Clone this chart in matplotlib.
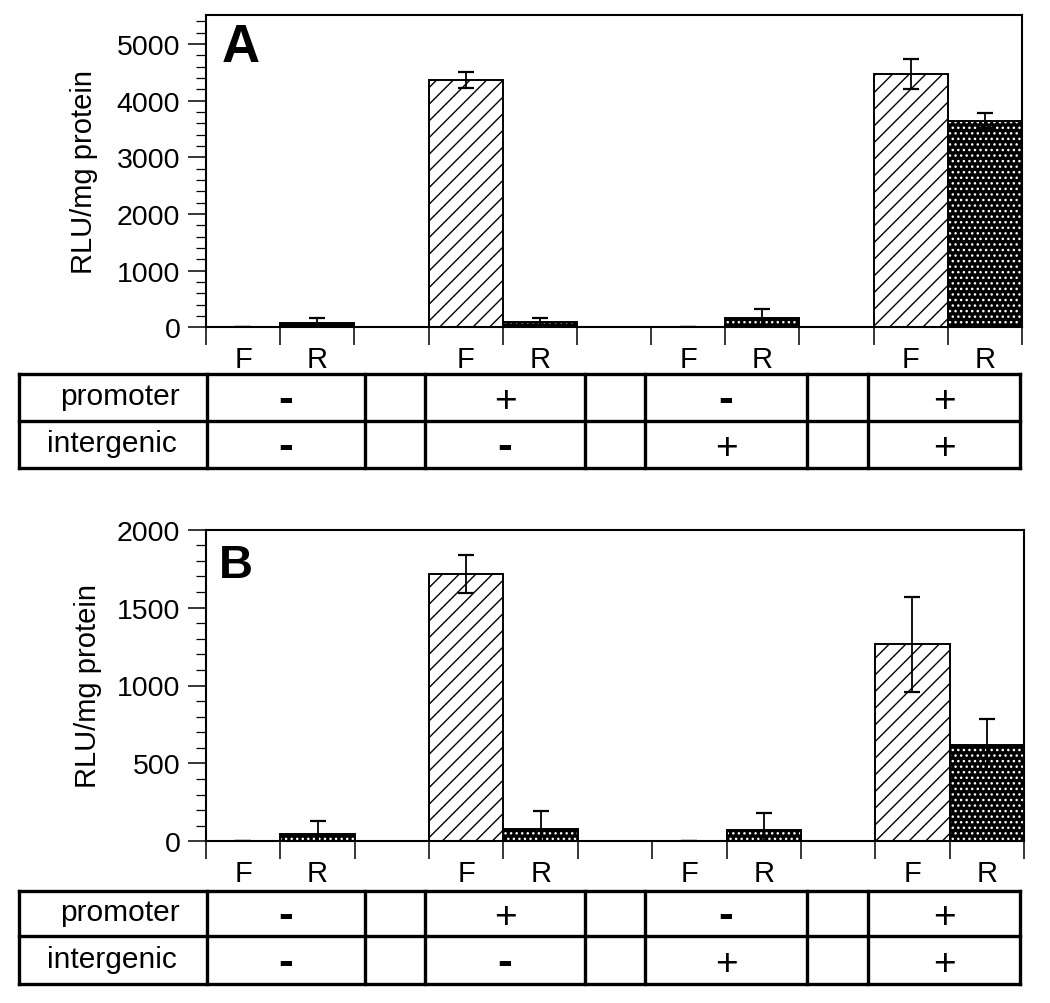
import matplotlib
matplotlib.use('Agg')
import matplotlib.pyplot as plt
import numpy as np
from matplotlib import font_manager
from matplotlib.ticker import MultipleLocator
from matplotlib.lines import Line2D


def has_font(name):
    try:
        font_manager.findfont(font_manager.FontProperties(family=name),
                              fallback_to_default=False)
        return True
    except Exception:
        return False


REG = 'Liberation Sans' if has_font('Liberation Sans') else 'DejaVu Sans'

# ---------------- data ----------------
strands = ['F', 'R']
n_groups = 4
a_forward = [2, 4360, 2, 4465]
a_forward_err = [3, 140, 3, 260]
a_reverse = [70, 85, 160, 3645]
a_reverse_err = [95, 75, 165, 130]

b_forward = [2, 1715, 2, 1264]
b_forward_err = [3, 120, 3, 307]
b_reverse = [50, 80, 75, 620]
b_reverse_err = [80, 115, 105, 165]

promoter = ['-', '+', '-', '+']
intergenic = ['-', '-', '+', '+']
row_names = ['promoter', 'intergenic']
y_label = 'RLU/mg protein'

# ---------------- figure ----------------
W, H = 1050, 1004
fig = plt.figure(figsize=(W / 100, H / 100), dpi=100)
plt.rcParams['hatch.linewidth'] = 1.0


def px_axes(l, t, r, b):
    return fig.add_axes([l / W, 1 - b / H, (r - l) / W, (b - t) / H])


def ftext(x, y, s, **kw):
    return fig.text(x / W, 1 - y / H, s, **kw)


slot_labels = []
for g in range(n_groups):
    slot_labels += strands
    if g < n_groups - 1:
        slot_labels.append('')


def draw_panel(ax, fwd, fwd_err, rev, rev_err, ymax, major, minor):
    fx = np.arange(n_groups) * 3 + 0.5
    rx = fx + 1
    ax.bar(fx, fwd, width=1, color='white', edgecolor='black', hatch='//',
           linewidth=1.4, zorder=2)
    ax.bar(rx, rev, width=1, color='black', edgecolor='white', hatch='...',
           linewidth=0, zorder=2)
    ax.bar(rx, rev, width=1, fill=False, edgecolor='black', linewidth=1.4,
           zorder=3)
    ax.errorbar(fx, fwd, yerr=fwd_err, fmt='none', ecolor='black',
                elinewidth=1.3, capsize=5.5, capthick=1.6, zorder=4)
    ax.errorbar(rx, rev, yerr=rev_err, fmt='none', ecolor='black',
                elinewidth=1.3, capsize=5.5, capthick=1.6, zorder=4)
    ax.set_xlim(0, len(slot_labels))
    ax.set_ylim(0, ymax)
    ax.set_xticks(np.arange(len(slot_labels) + 1))
    ax.set_xticklabels([])
    ax.set_xticks(np.arange(len(slot_labels)) + 0.5, minor=True)
    ax.set_xticklabels(slot_labels, minor=True, fontfamily=REG, fontsize=21)
    ax.tick_params(axis='x', which='major', direction='out', length=13,
                   width=1.1, color='black')
    ax.tick_params(axis='x', which='minor', length=0, pad=13)
    ax.yaxis.set_major_locator(MultipleLocator(major))
    ax.yaxis.set_minor_locator(MultipleLocator(minor))
    ax.tick_params(axis='y', which='major', direction='out', length=13,
                   width=1.1, pad=5.5, labelsize=20.5)
    ax.tick_params(axis='y', which='minor', direction='out', length=7,
                   width=0.9)
    for lab in ax.get_yticklabels():
        lab.set_fontfamily(REG)
    for sp in ax.spines.values():
        sp.set_linewidth(1.5)


axA = px_axes(206, 16, 1022, 328.3)
draw_panel(axA, a_forward, a_forward_err, a_reverse, a_reverse_err,
           5510, 1000, 200)
axB = px_axes(206, 530.7, 1024, 842.3)
draw_panel(axB, b_forward, b_forward_err, b_reverse, b_reverse_err,
           2000, 500, 100)

ftext(84, 172, y_label, rotation=90, ha='center', va='center',
      fontsize=21, fontfamily=REG)
ftext(88, 686, y_label, rotation=90, ha='center', va='center',
      fontsize=21, fontfamily=REG)
ftext(222, 62, 'A', ha='left', va='baseline', fontsize=38,
      fontweight='bold', fontfamily=REG)
ftext(219, 578, 'B', ha='left', va='baseline', fontsize=34,
      fontweight='bold', fontfamily=REG)

# ---------------- tables ----------------
ov = fig.add_axes([0, 0, 1, 1])
ov.set_xlim(0, W)
ov.set_ylim(H, 0)
ov.axis('off')

cols = [19, 207, 365, 425, 585, 645, 807, 868, 1020]
group_cols = [(cols[1], cols[2]), (cols[3], cols[4]),
              (cols[5], cols[6]), (cols[7], cols[8])]


def draw_table(top, mid, bot):
    lw = 2.4
    for x in cols:
        ov.add_line(Line2D([x, x], [top, bot], color='black', lw=lw,
                           solid_capstyle='projecting'))
    for y in (top, mid, bot):
        ov.add_line(Line2D([cols[0], cols[-1]], [y, y], color='black', lw=lw,
                           solid_capstyle='projecting'))
    ov.text(180, top + 30, row_names[0], ha='right', va='baseline',
            fontsize=21.5, fontfamily=REG)
    ov.text(177, top + 77, row_names[1], ha='right', va='baseline',
            fontsize=21.5, fontfamily=REG)
    for row_vals, yc in ((promoter, (top + mid) / 2 + 1),
                         (intergenic, (mid + bot) / 2 + 1)):
        for (x0, x1), s in zip(group_cols, row_vals):
            xc = (x0 + x1) / 2
            if s == '-':
                ov.text(xc, yc + 13, '-', ha='center', va='baseline',
                        fontsize=32, fontweight='bold', fontfamily=REG)
            else:
                ov.text(xc, yc + 13, '+', ha='center', va='baseline',
                        fontsize=28, fontfamily=REG)


draw_table(375, 421.5, 469)
draw_table(891.5, 937, 985)

fig.savefig('out.png', dpi=100)
